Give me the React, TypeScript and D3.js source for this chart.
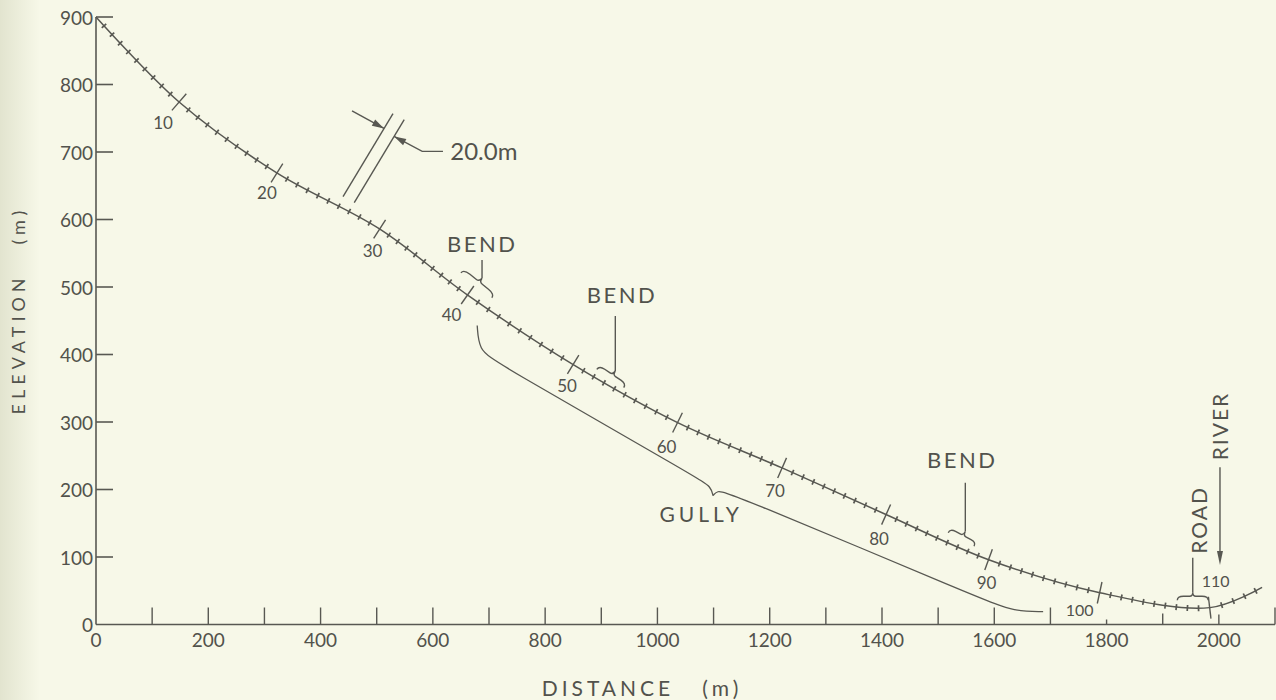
import React, { useEffect, useRef } from 'react';
import * as d3 from 'd3';

// ---------- data ----------
const stationNumbers = [0, 10, 20, 30, 40, 50, 60, 70, 80, 90, 100, 110, 114.6];
const stationDistance = [0, 148, 322, 505, 662, 850, 1036, 1222, 1407, 1590, 1788, 1984, 2077];
const stationElevation = [900, 774, 669, 586, 488, 385, 299, 232, 163, 96, 47, 25, 55];

const gullyLeftDistance = [679, 682, 711, 1076, 1095, 1099];
const gullyLeftElevation = [443, 407, 389, 215, 204, 191];
const gullyRightDistance = [1099, 1106, 1124, 1580, 1637, 1687];
const gullyRightElevation = [191, 198, 197, 37, 19, 19];

const xTickValues = d3.range(0, 2101, 100);
const xTickLabels = [0, 200, 400, 600, 800, 1000, 1200, 1400, 1600, 1800, 2000];
const yTickValues = [0, 100, 200, 300, 400, 500, 600, 700, 800, 900];

// annotation anchors, in data units (distance, elevation)
const bendLabels = ['BEND', 'BEND', 'BEND'];
const bendLabelAt = [[688, 564], [937, 489], [1543, 245]];
const bendStemTop = [[686, 540], [924, 457], [1544, 210]];
const bendBraceLeft = [[650, 521], [892, 378], [1518, 136]];
const bendBraceRight = [[705, 484], [940, 351], [1564, 116]];

const roadLabelAt = [1963, 155];
const roadStemTop = [1952, 99];
const roadBraceLeft = [1926, 36];
const roadBraceRight = [1981, 36];

const riverLabelAt = [2002, 294];
const riverArrowTop = [2002, 233];
const riverArrowTip = [2002, 88];

const gullyLabelAt = [1078, 152];

const widthLine1 = [[529, 757], [440, 634]];
const widthLine2 = [[549, 748], [460, 625]];
const widthArrow1 = [[456, 761], [513, 735]];
const widthArrow2 = [[581, 701], [531, 723]];
const widthLeaderEnd = [618, 701];
const widthLabelAt = [631, 688];
const widthLabel = '20.0m';

// ---------- layout / style ----------
const W = 1276;
const H = 700;
const INK = '#585852';
const TEXT = '#52524c';
const FONT = "Lato, 'DejaVu Sans', sans-serif";
const labelOffset: Record<number, [number, number]> = {
  10: [-16, 20], 20: [-10, 19], 30: [-7, 21], 40: [-16, 19], 50: [-6, 21],
  60: [-11, 24], 70: [-7, 23], 80: [-7, 24], 90: [-2, 23], 100: [-20, 17], 110: [6, -27],
};
const shortXTicks: Record<number, number> = { 1800: 5, 1900: 11, 2000: 10 };

const x = d3.scaleLinear().domain([0, 2100]).range([96, 1275]);
const y = d3.scaleLinear().domain([0, 900]).range([624.5, 17]);

type P = [number, number];
const px = (d: number[]): P => [x(d[0]), y(d[1])];

function bracePath(L: P, R: P, h: number): { d: string; cusp: P } {
  const dx = R[0] - L[0], dy = R[1] - L[1];
  const w = Math.hypot(dx, dy);
  const u: P = [dx / w, dy / w];
  let n: P = [u[1], -u[0]];
  if (n[1] > 0) n = [-n[0], -n[1]];
  const T = (a: number, b: number): string => {
    const X = L[0] + a * u[0] + b * n[0];
    const Y = L[1] + a * u[1] + b * n[1];
    return `${X.toFixed(2)},${Y.toFixed(2)}`;
  };
  const d = `M${T(0, 0)} Q${T(0, h / 2)} ${T(w * 0.2, h / 2)} L${T(w * 0.4, h / 2)} Q${T(w / 2, h / 2)} ${T(w / 2, h)} Q${T(w / 2, h / 2)} ${T(w * 0.6, h / 2)} L${T(w * 0.8, h / 2)} Q${T(w, h / 2)} ${T(w, 0)}`;
  const cx = L[0] + (w / 2) * u[0] + h * n[0];
  const cy = L[1] + (w / 2) * u[1] + h * n[1];
  return { d, cusp: [cx, cy] };
}

function arrowHead(from: P, tip: P, len: number, half: number): string {
  const dx = tip[0] - from[0], dy = tip[1] - from[1];
  const l = Math.hypot(dx, dy);
  const u = [dx / l, dy / l];
  const b = [tip[0] - u[0] * len, tip[1] - u[1] * len];
  const n = [-u[1], u[0]];
  return [tip, [b[0] + n[0] * half, b[1] + n[1] * half], [b[0] - n[0] * half, b[1] - n[1] * half]]
    .map((p) => p.join(',')).join(' ');
}

export default function App() {
  const pathRef = useRef<SVGPathElement>(null);
  const ticksRef = useRef<SVGGElement>(null);

  const profile = stationNumbers.map((s, i) => ({ s, d: stationDistance[i], e: stationElevation[i] }));
  const line = d3.line<{ d: number; e: number }>().x((p) => x(p.d)).y((p) => y(p.e)).curve(d3.curveCatmullRom.alpha(0.5));
  const profilePath = line(profile) || '';

  const gl = d3.line<number>().x((_, i) => x(gullyLeftDistance[i])).y((_, i) => y(gullyLeftElevation[i])).curve(d3.curveBasis);
  const gr = d3.line<number>().x((_, i) => x(gullyRightDistance[i])).y((_, i) => y(gullyRightElevation[i])).curve(d3.curveBasis);
  const gullyLeftPath = gl(gullyLeftDistance) || '';
  const gullyRightPath = gr(gullyRightDistance) || '';

  useEffect(() => {
    const path = pathRef.current;
    const g = ticksRef.current;
    if (!path || !g) return;
    const total = path.getTotalLength();
    const N = Math.ceil(total * 2);
    const samples = d3.range(N + 1).map((i) => {
      const l = (total * i) / N;
      const p = path.getPointAtLength(l);
      return { l, x: p.x, y: p.y };
    });
    const anchorLen = profile.map((p) => {
      const ax = x(p.d), ay = y(p.e);
      let best = samples[0], bd = Infinity;
      for (const s of samples) {
        const dd = (s.x - ax) ** 2 + (s.y - ay) ** 2;
        if (dd < bd) { bd = dd; best = s; }
      }
      return best.l;
    });
    const last = profile[profile.length - 1].s;
    const stations: { s: number; l: number }[] = [];
    for (let s = 1; s <= Math.floor(last); s++) {
      let i = 0;
      while (i < profile.length - 2 && s >= profile[i + 1].s) i++;
      const s0 = profile[i].s, s1 = profile[i + 1].s;
      const l = anchorLen[i] + ((s - s0) / (s1 - s0)) * (anchorLen[i + 1] - anchorLen[i]);
      stations.push({ s, l });
    }
    const sel = d3.select(g);
    sel.selectAll('*').remove();
    stations.forEach(({ s, l }) => {
      const p = path.getPointAtLength(l);
      const a = path.getPointAtLength(Math.max(0, l - 1));
      const b = path.getPointAtLength(Math.min(total, l + 1));
      const tx = b.x - a.x, ty = b.y - a.y;
      const tl = Math.hypot(tx, ty) || 1;
      const nx = -ty / tl, ny = tx / tl;
      const major = s % 10 === 0;
      const half = major ? 11 : 3;
      sel.append('line')
        .attr('x1', p.x - nx * half).attr('y1', p.y - ny * half)
        .attr('x2', p.x + nx * half).attr('y2', p.y + ny * half)
        .attr('stroke', INK).attr('stroke-width', major ? 1.4 : 1.7);
      if (major && labelOffset[s]) {
        const [ox, oy] = labelOffset[s];
        sel.append('text')
          .attr('x', p.x + ox).attr('y', p.y + oy)
          .attr('text-anchor', 'middle').attr('dominant-baseline', 'central')
          .attr('font-size', s >= 100 ? 16 : 17).attr('font-family', FONT).attr('font-weight', 400)
          .attr('fill', TEXT).text(String(s));
      }
    });
  }, []);

  const braces = bendLabels.map((t, i) => {
    const br = bracePath(px(bendBraceLeft[i]), px(bendBraceRight[i]), 9);
    return { t, br, label: px(bendLabelAt[i]), stemTop: px(bendStemTop[i]) };
  });
  const road = bracePath(px(roadBraceLeft), px(roadBraceRight), 8);

  const a1 = widthArrow1.map(px) as P[];
  const a2 = widthArrow2.map(px) as P[];
  const riverTop = px(riverArrowTop);
  const riverTip = px(riverArrowTip);

  const textStyle = { fontFamily: FONT, fontWeight: 400, fill: TEXT } as const;

  return (
    <div style={{ position: 'absolute', left: 0, top: 0 }}>
      <svg width={W} height={H} viewBox={`0 0 ${W} ${H}`} style={{ display: 'block' }}>
        <defs>
          <linearGradient id="edge" x1="0" x2="1" y1="0" y2="0">
            <stop offset="0" stopColor="#e2e4cf" />
            <stop offset="1" stopColor="#f7f8e8" />
          </linearGradient>
        </defs>
        <rect x={0} y={0} width={W} height={H} fill="#f7f8e8" />
        <rect x={0} y={0} width={40} height={H} fill="url(#edge)" />

        {/* axes */}
        <g stroke={INK} strokeWidth={1.6} fill="none">
          <line x1={x(0)} x2={x(0)} y1={y(900)} y2={y(0)} />
          <line x1={x(0)} x2={x(2100)} y1={y(0)} y2={y(0)} />
          {yTickValues.filter((v) => v > 0).map((v) => (
            <line key={v} x1={x(0)} x2={x(0) + 17} y1={y(v)} y2={y(v)} />
          ))}
          {xTickValues.filter((v) => v > 0).map((v) => (
            <line key={v} x1={x(v)} x2={x(v)} y1={y(0)} y2={y(0) - (shortXTicks[v] ?? 17)} strokeWidth={1.4} />
          ))}
        </g>
        {yTickValues.map((v) => (
          <text key={v} x={x(0) - 3} y={y(v)} textAnchor="end" dominantBaseline="central" fontSize={19} {...textStyle}>{v}</text>
        ))}
        {xTickLabels.map((v) => (
          <text key={v} x={x(v)} y={y(0) + 15} textAnchor="middle" dominantBaseline="central" fontSize={19} {...textStyle}>{v}</text>
        ))}
        <text transform={`translate(25,${310}) rotate(-90)`} textAnchor="middle" fontSize={18} letterSpacing={5} style={{ whiteSpace: 'pre' }} {...textStyle}>{'ELEVATION   (m)'}</text>
        <text x={642} y={696} textAnchor="middle" fontSize={21} letterSpacing={4} style={{ whiteSpace: 'pre' }} {...textStyle}>{'DISTANCE   (m)'}</text>

        {/* profile */}
        <path ref={pathRef} d={profilePath} fill="none" stroke={INK} strokeWidth={1.5} />
        <g ref={ticksRef} />

        {/* gully */}
        <path d={gullyLeftPath} fill="none" stroke={INK} strokeWidth={1.3} />
        <path d={gullyRightPath} fill="none" stroke={INK} strokeWidth={1.3} />
        <text x={px(gullyLabelAt)[0]} y={px(gullyLabelAt)[1]} textAnchor="middle" fontSize={21} letterSpacing={4} {...textStyle}>GULLY</text>

        {/* bends */}
        {braces.map((b, i) => (
          <g key={i}>
            <path d={b.br.d} fill="none" stroke={INK} strokeWidth={1.4} />
            <line x1={b.br.cusp[0]} x2={b.br.cusp[0]} y1={b.stemTop[1]} y2={b.br.cusp[1]} stroke={INK} strokeWidth={1.4} />
            <text x={b.label[0]} y={b.label[1]} textAnchor="middle" dominantBaseline="central" fontSize={22} letterSpacing={2.5} {...textStyle}>{b.t}</text>
          </g>
        ))}

        {/* road */}
        <path d={road.d} fill="none" stroke={INK} strokeWidth={1.4} />
        <line x1={road.cusp[0]} x2={road.cusp[0]} y1={px(roadStemTop)[1]} y2={road.cusp[1]} stroke={INK} strokeWidth={1.4} />
        <text transform={`translate(${px(roadLabelAt)[0]},${px(roadLabelAt)[1]}) rotate(-90)`} textAnchor="middle" dominantBaseline="central" fontSize={21} letterSpacing={2} {...textStyle}>ROAD</text>

        {/* river */}
        <line x1={riverTop[0]} x2={riverTip[0]} y1={riverTop[1]} y2={riverTip[1] - 8} stroke={INK} strokeWidth={1.4} />
        <polygon points={arrowHead(riverTop, riverTip, 14, 3)} fill={INK} />
        <text transform={`translate(${px(riverLabelAt)[0]},${px(riverLabelAt)[1]}) rotate(-90)`} textAnchor="middle" dominantBaseline="central" fontSize={21} letterSpacing={2} {...textStyle}>RIVER</text>

        {/* 20.0 m width marker */}
        <g stroke={INK} strokeWidth={1.4} fill="none">
          <line x1={px(widthLine1[0])[0]} y1={px(widthLine1[0])[1]} x2={px(widthLine1[1])[0]} y2={px(widthLine1[1])[1]} />
          <line x1={px(widthLine2[0])[0]} y1={px(widthLine2[0])[1]} x2={px(widthLine2[1])[0]} y2={px(widthLine2[1])[1]} />
          <line x1={a1[0][0]} y1={a1[0][1]} x2={a1[1][0]} y2={a1[1][1]} />
          <polyline points={`${px(widthLeaderEnd).join(',')} ${a2[0].join(',')} ${a2[1].join(',')}`} />
        </g>
        <polygon points={arrowHead(a1[0], a1[1], 12, 3.5)} fill={INK} />
        <polygon points={arrowHead(a2[0], a2[1], 12, 3.5)} fill={INK} />
        <text x={px(widthLabelAt)[0]} y={px(widthLabelAt)[1]} fontSize={24} {...textStyle}>{widthLabel}</text>
      </svg>
    </div>
  );
}
